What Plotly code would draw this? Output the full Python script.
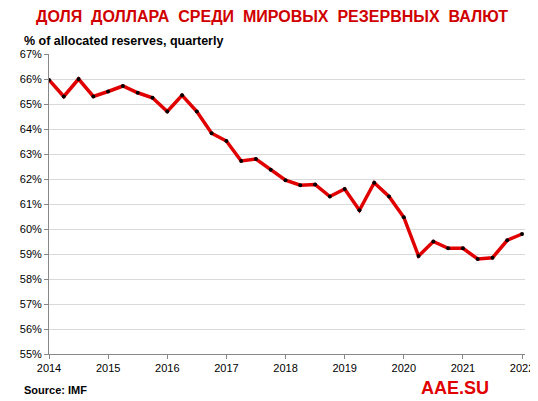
import plotly.graph_objects as go

# quarterly, 2014 Q1 .. 2022 Q1
share = [65.96, 65.3, 66.0, 65.3, 65.5, 65.72, 65.45, 65.25,
         64.7, 65.35, 64.7, 63.83, 63.52, 62.72, 62.8, 62.37,
         61.95, 61.75, 61.78, 61.3, 61.6, 60.75, 61.85, 61.3,
         60.47, 58.92, 59.5, 59.23, 59.23, 58.8, 58.85, 59.55, 59.8]
quarters = [2014 + i * 0.25 for i in range(len(share))]
year_ticks = list(range(2014, 2023))
pct_ticks = list(range(55, 68))

fig = go.Figure(go.Scatter(
    x=quarters, y=share, mode='lines+markers',
    line=dict(color='#e00000', width=3.5),
    marker=dict(color='black', size=4),
))

fig.update_layout(
    width=538, height=401, paper_bgcolor='white', plot_bgcolor='white',
    margin=dict(l=36, r=19, t=46, b=55), showlegend=False,
    font=dict(family='Liberation Sans, Arial, sans-serif', size=11, color='black'),
    annotations=[
        dict(text='<b>ДОЛЯ  ДОЛЛАРА  СРЕДИ  МИРОВЫХ  РЕЗЕРВНЫХ  ВАЛЮТ</b>',
             x=0.468, y=1, xref='paper', yref='paper', xanchor='center', yanchor='middle', yshift=38,
             showarrow=False, font=dict(size=16, color='#d00000')),
        dict(text='<b>% of allocated reserves, quarterly</b>', x=-0.056, y=1, xref='paper', yref='paper',
             xanchor='left', yanchor='middle', yshift=13, showarrow=False, font=dict(size=12.5)),
        dict(text='<b>Source: IMF</b>', x=-0.056, y=0, xref='paper', yref='paper', xanchor='left',
             yanchor='middle', yshift=-36, showarrow=False, font=dict(size=11)),
        dict(text='<b>AAE.SU</b>', x=0.853, y=0, xref='paper', yref='paper', xanchor='center', yanchor='middle',
             yshift=-34, showarrow=False, font=dict(size=18, color='#e00000')),
    ],
)
fig.update_xaxes(range=[2014, 2022.05], tickvals=year_ticks, showgrid=False, zeroline=False,
                 showline=True, linecolor='#888', ticks='outside', ticklen=4, tickcolor='#888')
fig.update_yaxes(range=[55, 67], tickvals=pct_ticks, ticktext=[f'{v}%' for v in pct_ticks],
                 showgrid=True, gridcolor='#d9d9d9', zeroline=False, showline=True, linecolor='#888',
                 ticks='outside', ticklen=4, tickcolor='#888')

fig.write_html('out.html')
